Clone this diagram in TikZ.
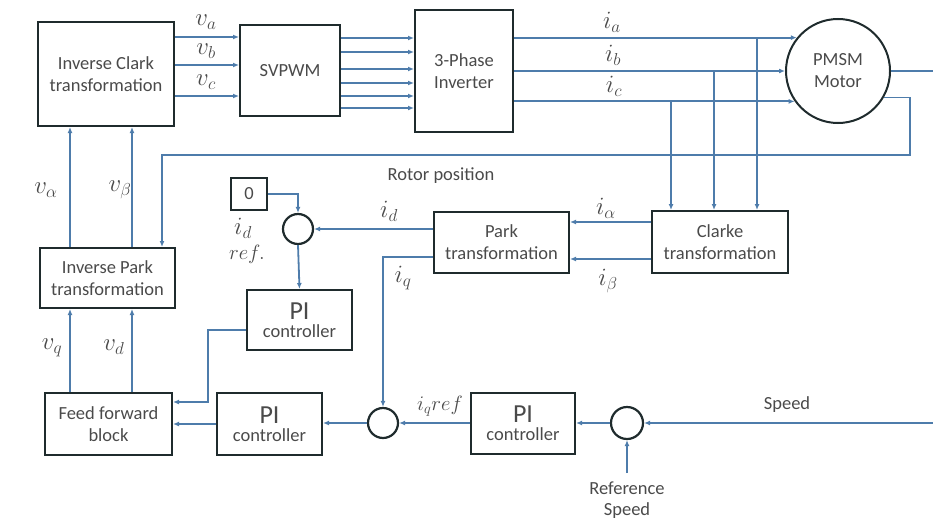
\documentclass[tikz,border=0pt]{standalone}
\usepackage{fontspec}
\setmainfont{Carlito}
\usetikzlibrary{arrows.meta}
\definecolor{lineblue}{HTML}{4E7CAB}
\definecolor{boxdark}{HTML}{1F2B2D}
\definecolor{txtgray}{HTML}{4A4A4A}
\begin{document}
\begin{tikzpicture}[x=1pt,y=-1pt,
  blk/.style={draw=boxdark, line width=2pt, text=txtgray, align=center, inner sep=0pt, font=\fontsize{18.5}{22}\selectfont},
  sumc/.style={circle, draw=boxdark, line width=2.2pt, minimum size=30pt, inner sep=0pt},
  arr/.style={draw=lineblue, line width=1.8pt, -{Latex[length=6pt,width=5pt]}},
  ln/.style={draw=lineblue, line width=1.8pt},
  lbl/.style={text=txtgray, font=\fontsize{18.5}{22}\selectfont, inner sep=0pt, align=center},
  mlbl/.style={text=txtgray, font=\fontsize{23}{24}\selectfont, inner sep=0pt},
  rlbl/.style={text=txtgray, font=\fontsize{20}{22}\selectfont, inner sep=0pt},
]
\useasboundingbox (0,0) rectangle (933,519);

% blocks
\node[blk, minimum width=136pt, minimum height=104pt] (iclark) at (106,74) {Inverse Clark\\transformation};
\node[blk, minimum width=100pt, minimum height=91pt] (svpwm) at (290,70.5) {SVPWM};
\node[blk, minimum width=98pt, minimum height=122pt] (inv) at (464,71) {3-Phase\\Inverter};
\node[circle, draw=boxdark, line width=2pt, minimum size=104pt, inner sep=0pt, align=center, text=txtgray, font=\fontsize{18.5}{22}\selectfont] (motor) at (838,71) {PMSM\\Motor};
\node[blk, minimum width=136pt, minimum height=62pt] (clarke) at (720,242) {Clarke\\transformation};
\node[blk, minimum width=135pt, minimum height=61pt] (park) at (501.5,242.5) {Park\\transformation};
\node[blk, minimum width=36pt, minimum height=32pt] (zero) at (249,194) {0};
\node[sumc] (sum1) at (298,229) {};
\node[blk, minimum width=105pt, minimum height=60pt] (pi1) at (299.5,320) {\fontsize{26}{28}\selectfont PI\\[-4pt]\fontsize{18.5}{22}\selectfont controller};
\node[blk, minimum width=135pt, minimum height=60pt] (ipark) at (107.5,278) {Inverse Park\\transformation};
\node[blk, minimum width=127pt, minimum height=62pt] (ff) at (108.5,424) {Feed forward\\block};
\node[blk, minimum width=105pt, minimum height=62pt] (pi2) at (269.5,424) {\fontsize{26}{28}\selectfont PI\\[-4pt]\fontsize{18.5}{22}\selectfont controller};
\node[sumc] (sum2) at (383,423) {};
\node[blk, minimum width=104pt, minimum height=61pt] (pi3) at (523,423.5) {\fontsize{26}{28}\selectfont PI\\[-4pt]\fontsize{18.5}{22}\selectfont controller};
\node[sumc, minimum size=32pt] (sum3) at (627,423) {};

% helper coordinates
\coordinate (ya) at (0,37);
\coordinate (yb) at (0,65);
\coordinate (yc) at (0,96);
\coordinate (xa) at (757,0);
\coordinate (xb) at (714,0);
\coordinate (xc) at (671,0);
\coordinate (fb1) at (910,155);
\coordinate (fb2) at (162,155);
\coordinate (xal) at (70,0);
\coordinate (xbe) at (132,0);
\coordinate (yial) at (0,222);
\coordinate (yibe) at (0,259);
\coordinate (iqc) at (383,257);
\coordinate (c1) at (208,330);
\coordinate (c2) at (0,402);
\coordinate (mout) at (933,71);
\coordinate (spd) at (933,423);
\coordinate (rsp) at (627,473);

% Inverse Clark -> SVPWM
\draw[arr] (iclark.east |- ya) -- (svpwm.west |- ya);
\draw[arr] (iclark.east |- yb) -- (svpwm.west |- yb);
\draw[arr] (iclark.east |- yc) -- (svpwm.west |- yc);
\node[mlbl] (lva) at (206,22) {$v_a$};
\node[mlbl] (lvb) at (206,51) {$v_b$};
\node[mlbl] (lvc) at (206,82) {$v_c$};

% SVPWM -> Inverter (six gate signals)
\foreach \yy in {38,52,69,83,96,108}{
  \coordinate (g) at (0,\yy);
  \draw[arr] (svpwm.east |- g) -- (inv.west |- g);
}

% Inverter -> Motor
\draw[arr] (inv.east |- motor.141) -- (motor.141);
\draw[arr] (inv.east |- motor.west) -- (motor.west);
\draw[arr] (inv.east |- motor.215) -- (motor.215);
\node[mlbl] (lia) at (612,22) {$i_a$};
\node[mlbl] (lib) at (613,55) {$i_b$};
\node[mlbl] (lic) at (614,86) {$i_c$};

% taps to Clarke
\draw[arr] (xa |- motor.141) -- (xa |- clarke.north);
\draw[arr] (xb |- motor.west) -- (xb |- clarke.north);
\draw[arr] (xc |- motor.215) -- (xc |- clarke.north);

% motor output shaft
\draw[ln] (motor.east) -- (mout);

% rotor position feedback
\draw[arr] (motor.330) -| (fb1) -- (fb2) -- (fb2 |- ipark.north);
\node[lbl] (lrot) at (441,176) {Rotor position};

% Clarke -> Park
\draw[arr] (clarke.west |- yial) -- (park.east |- yial);
\draw[arr] (clarke.west |- yibe) -- (park.east |- yibe);
\node[mlbl] (lial) at (606,208) {$i_\alpha$};
\node[mlbl] (libe) at (608,281) {$i_\beta$};

% Park -> sum1 (i_d)
\draw[arr] (park.west |- sum1.east) -- (sum1.east);
\node[mlbl] (lid) at (389,211) {$i_d$};

% Park -> sum2 (i_q)
\draw[arr] (park.west |- iqc) -| (sum2.north);
\node[mlbl] (liq) at (403,278) {$i_q$};

% zero reference
\draw[arr] (zero.east) -| (sum1.north);
\node[mlbl] (lidr) at (243,228) {$i_d$};
\node[rlbl] (lref) at (247,254) {$ref.$};

% sum1 -> PI1
\draw[arr] (sum1.south) -- (pi1.north);

% PI1 -> feed forward
\draw[arr] (pi1.west |- c1) -- (c1) |- (ff.east |- c2);

% lower chain
\draw[arr] (pi2.west) -- (ff.east |- pi2.west);
\draw[arr] (sum2.west) -- (pi2.east |- sum2.west);
\draw[arr] (pi3.west |- sum2.east) -- (sum2.east);
\node[rlbl] (liqr) at (440,406) {$i_q ref$};
\draw[arr] (sum3.west) -- (pi3.east |- sum3.west);
\draw[arr] (spd) -- (sum3.east);
\node[lbl] (lspd) at (787,405) {Speed};
\draw[arr] (rsp) -- (sum3.south);
\node[lbl, font=\fontsize{18.5}{21}\selectfont] (lrsp) at (627,500) {Reference\\Speed};

% feed forward -> inverse Park
\draw[arr] (xal |- ff.north) -- (xal |- ipark.south);
\draw[arr] (xbe |- ff.north) -- (xbe |- ipark.south);
\node[mlbl] (lvq) at (52,348) {$v_q$};
\node[mlbl] (lvd) at (114,347) {$v_d$};

% inverse Park -> inverse Clark
\draw[arr] (xal |- ipark.north) -- (xal |- iclark.south);
\draw[arr] (xbe |- ipark.north) -- (xbe |- iclark.south);
\node[mlbl] (lval) at (46,190) {$v_\alpha$};
\node[mlbl] (lvbe) at (120,190) {$v_\beta$};
\end{tikzpicture}
\end{document}
